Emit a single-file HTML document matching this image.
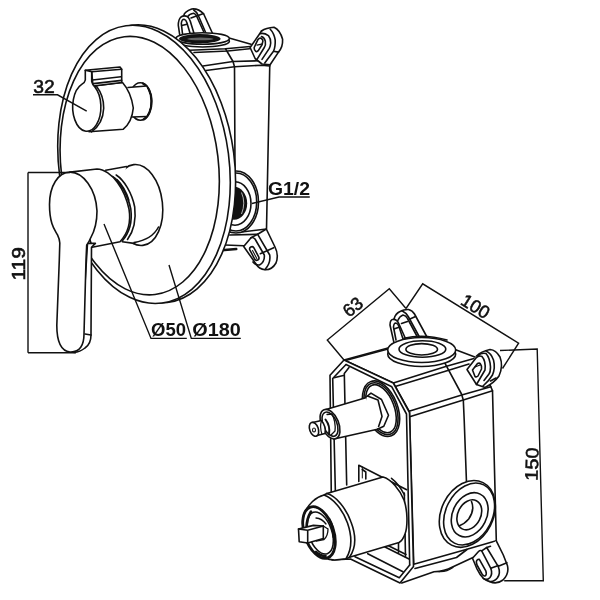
<!DOCTYPE html>
<html><head><meta charset="utf-8">
<style>
html,body{margin:0;padding:0;background:#fff;}
svg{display:block;filter:grayscale(1)}
.s{fill:none;stroke:#111;stroke-width:1.6;stroke-linecap:round;stroke-linejoin:round}
.w{fill:#fff;stroke:#111;stroke-width:1.6;stroke-linecap:round;stroke-linejoin:round}
.f{fill:#fff;stroke:none}
.t{fill:none;stroke:#111;stroke-width:1.4;stroke-linecap:butt}
.k{fill:#111;stroke:#111;stroke-width:1}
text{font-family:"Liberation Sans",sans-serif;fill:#111}
.b{font-weight:bold;font-size:18px}
.r{font-size:18px;stroke:#111;stroke-width:0.55}
</style></head><body>
<svg width="600" height="600" viewBox="0 0 600 600">
<rect width="600" height="600" fill="#fff"/>
<!-- ================= DRAWING 1 ================= -->
<g id="d1">
<!-- box behind plate -->
<g id="d1box">
 <!-- left ear -->
 <path class="f" d="M180.5,40 L178.3,25.3 Q178.5,18 183.7,15.7 Q185,11 191.7,9 Q198,8.5 203.7,14 L215.5,40 Z"/>
 <path class="s" d="M180.5,40 L178.3,25.3 Q178.3,19.5 181,17 Q184,15 187.7,16.7 Q189.5,18.5 190.3,21.3 L196,40"/>
 <path class="s" d="M183,38 L181.3,23.5 Q181.8,19.3 184,19.3 Q186,19.8 186.8,22.5 L191.5,38"/>
 <path class="s" d="M181.7,25.5 L187,24.2"/>
 <path class="s" d="M183.7,15.7 Q184.5,11.5 191.7,9 Q198.5,8.3 203.7,14 L215.5,40"/>
 <path class="s" d="M187.7,16.7 Q189.5,13.8 193.7,13.3 Q196,14 197,17 L206.5,38"/>
 <path class="s" d="M193.7,10 Q197,12 198.5,16 L208,38"/>
 <path class="s" d="M191,18 L196.3,16 M197.5,15.8 L203.5,13.5"/>
 <!-- top faces -->
 <path class="s" d="M230,38.25 L251,44.25"/>
 <path class="s" d="M189.5,50.25 L225.5,48.75 L250.25,46.5"/>
 <path class="s" d="M194,52.5 L227.75,51 L249.5,48.75"/>
 <path class="s" d="M203,66 L233,61.5 L260,60.75"/>
 <path class="s" d="M206,70.5 L234.5,66.75 L261.5,65.25 L269.75,66"/>
 <path class="s" d="M225.5,48.75 L233,61.5 L234.5,66.75 L235,172"/>
 <path class="s" d="M269.75,66 L266.5,229 L243.7,231.7 L229,232.3"/>
 <!-- top port -->
 <ellipse class="w" cx="202.6" cy="41.2" rx="26.8" ry="5.8"/>
 <ellipse class="w" cx="202.6" cy="38.5" rx="26.8" ry="5.8"/>
 <ellipse cx="199.8" cy="38.7" rx="20.8" ry="4.7" fill="#111"/>
 <ellipse cx="200.3" cy="38.9" rx="13" ry="1.4" fill="#666"/>
 <!-- right ear -->
 <path class="f" d="M250.1,47.5 L261.5,31 Q267,27.5 274,27.3 Q280,29 282.6,39 Q283,47 278.5,52 L270.25,64.5 L262,64 L255.1,58.5 Z"/>
 <path class="s" d="M261.5,31 Q266,27.8 274,27.3 Q280,30 282.6,39.25 Q283,47 278.5,52.1 L270.25,64.5"/>
 <path class="s" d="M270.25,29.2 Q274,33 275.2,40 Q275.5,47 273.5,51.2 L264.75,63 M273.5,51.2 L278.5,52.1"/>
 <path class="s" d="M259.7,33.75 Q264,32.5 268.4,35.6 Q271,39 270.7,43 Q270.5,46 269.3,48.4 L262,59.4"/>
 <path class="s" d="M261.5,36.5 Q264,37 265.3,41 Q266,45 264.3,47.5 L257,59.4"/>
 <path class="s" d="M255.1,58.5 L250.1,47.5 L259.7,33.75 L261.5,31 M255.1,58.5 L262,64 L270.25,64.9"/>
 <path class="s" d="M254.2,47.5 L257.9,39.7 Q259.5,37.5 261.1,38.3 Q263,39.5 262.9,41.1 L262,44.75 L258.3,50.7 Q256.5,52.3 255.6,51.2 Q254,50 254.2,47.5 Z"/>
 <path class="s" d="M257,45.2 L262.5,43.8" style="stroke-width:1.2"/>
 <!-- side port G1/2 -->
 <ellipse class="w" cx="236" cy="202" rx="22.5" ry="31"/>
 <ellipse class="s" cx="236" cy="202" rx="20.7" ry="29"/>
 <ellipse class="s" cx="235" cy="203.5" rx="16" ry="21.7"/>
 <ellipse cx="234" cy="203.3" rx="13.2" ry="16.5" fill="#111"/>
 <path d="M241.5,192.5 Q246,203 241.5,214" fill="none" stroke="#ddd" stroke-width="0.8"/>
 <!-- bottom ear -->
 <path class="s" d="M229.7,235 L257.7,234.3"/>
 <path class="s" d="M225,245 L243.7,245.7"/>
 <path class="s" d="M221.7,250.3 L236.3,249" style="stroke-width:2.4"/>
 <path class="w" d="M266.3,229 L275,247 Q279,255 276,263 Q272,270 265,269.7 Q259,269 256,264 L243.7,246.5 L251,237.7 L257.7,234.3 Z"/>
 <path class="s" d="M251,237.7 Q253,237 255,239 L264.3,255 Q265,262 259.5,265 Q255.5,265.5 253,262"/>
 <path class="s" d="M257.7,234.3 L269.7,255 Q271,263 265,269.5"/>
 <path class="s" d="M249.8,249.9 A2.3,2.3 0 0,1 253.8,247.7 L258.8,257.1 A2.3,2.3 0 0,1 254.8,259.3 Z"/>
 <path class="s" d="M252.5,250.5 L256.8,258.5" style="stroke-width:1.1"/>
 <path class="s" d="M260.3,253.7 L273.7,247.7"/>
</g>
<!-- plate -->
<g id="plate">
 <ellipse class="w" cx="149.3" cy="163.9" rx="85.1" ry="139.8" transform="rotate(-7.4 149.3 163.9)"/>
 <ellipse class="w" cx="144" cy="164.4" rx="85.1" ry="139.8" transform="rotate(-7.4 144 164.4)"/>
 <ellipse class="s" cx="139.7" cy="165.6" rx="78.7" ry="129.8" transform="rotate(-6.8 139.7 165.6)"/>
</g>
<!-- handle base cylinder -->
<g id="base">
 <ellipse class="w" cx="138.3" cy="205" rx="24.2" ry="40.6" transform="rotate(-6.5 138.3 205)"/>
 <path class="s" d="M158.5,227 Q152,239.5 134,242.6"/>
 <path class="f" d="M105,170.3 L126.5,166.3 Q114,204 134,244 L120,241.7 Z"/>
 <path class="s" d="M105.7,170.2 L126.5,166.5"/>
 <path class="s" d="M122.2,241.7 L134,243.4"/>
 <!-- ring -->
 <path class="s" d="M116.2,175 C124,180 132,193 134.7,207 C136.5,222 133,232 127.5,239.5"/>
 <path class="s" d="M112.5,176.5 C120,181 128,195 130.8,209 C132.5,222 129,233 122.2,241"/>
 <path class="s" d="M117,180 C122,185 126,192 128.5,200" style="stroke-width:2.2"/>
 <!-- handle body -->
 <path class="w" d="M70,172.1 L97,169 C104,169 112,175 117.5,182.5 C123,190 127,200 129,209 C131,221 128,233 120,241.7 L92.2,247.3 Z"/>
</g>
<!-- lever -->
<g id="lever">
 <path class="w" d="M87.5,243.4 L95.4,243.4 L91.5,247.3 L91,335 Q91,344 85,348 Q80,352 74,352.4 L84,300 Z"/>
 <path class="s" d="M85,334 L91,335"/>
 <path class="w" d="M49.5,204.6 C49.5,186 58,172.3 70,172.1 C83,172 96,189 97,211 C97,222 94,232 90.7,237.8 C89.5,241 88,243.5 86.7,245 L86,260 L84,334 C84,345 80,352.5 70,352 C60,351 56.8,340 56.8,325.3 L59.3,260 L59.8,243 C59.8,240 59,238 57.4,234.7 C56,232 53.5,229 51.9,223.6 C50.5,219 49.5,213 49.5,204.6 Z"/>
</g>
<!-- knob -->
<g id="knob">
 <ellipse class="w" cx="140.3" cy="101.5" rx="11.2" ry="18.7"/>
 <path class="s" d="M143,83.5 A11.2,18.7 0 0,1 144,119.3" style="stroke-width:2.3"/>
 <path class="f" d="M128,87.5 L146,86 L149.3,95 L149.8,107 L146,116.4 L131.5,117 Z"/>
 <path class="s" d="M128,87.5 L146.5,86 M131.5,117 L146.8,116.5"/>
 <path class="w" d="M95.8,85.8 L122.5,82.5 Q131,92 133.3,108 Q132,122 123.3,129.2 L89,131.8 Z"/>
 <path class="w" d="M85.3,70.3 L120,67 L121.7,69.2 L121.7,82.5 L93,86 L91.7,71.7 Z"/>
 <path class="s" d="M91.7,71.7 L121.7,69.2"/>
 <path class="s" d="M92.5,80 L121,76.7"/>
 <path class="s" d="M93.5,83.6 L121.7,80.4"/>
 <path class="s" d="M96.5,86.2 Q104,96 103.7,108.3 Q103,124 91.5,131.8"/>
 <path class="w" d="M85.3,70.3 L91.7,71.7 L91.7,81.7 Q92.3,84.5 95,87.3 A14.1,24.2 0 1,1 81.7,84.4 Q85,82.5 85.3,80 Z"/>
</g>
<!-- dims -->
<g id="d1dim">
 <path class="t" d="M33,94.8 L57.5,94.8 L86.7,111.2"/>
 <text class="r" x="33.3" y="92.9" textLength="21.5" lengthAdjust="spacingAndGlyphs">32</text>
 <path class="t" d="M28,172.5 L70,172.5 M28,172.5 L28,352.7 M28,352.7 L76,352.7"/>
 <text class="r" transform="translate(24.7,280.6) rotate(-90)" textLength="33.5" lengthAdjust="spacingAndGlyphs" style="stroke-width:0.6">119</text>
 <path class="t" d="M309.8,197 L279,197 L252,203.5"/>
 <text class="b" x="268" y="194.7" textLength="42" lengthAdjust="spacingAndGlyphs">G1/2</text>
 <path class="t" d="M186.8,338.4 L151,338.4 L104,224"/>
 <path class="t" d="M240.8,338.4 L191.3,338.4 L169,265"/>
 <text class="b" x="151" y="335.7" textLength="35" lengthAdjust="spacingAndGlyphs">Ø50</text>
 <text class="b" x="192.3" y="335.7" textLength="48.5" lengthAdjust="spacingAndGlyphs">Ø180</text>
</g>
</g>
<!-- ================= DRAWING 2 ================= -->
<g id="d2">
<!-- top ear (back-left) -->
<g id="d2ear1">
 <path class="f" d="M394.5,345 L390,325 Q390,320 394,319 Q395.5,313.5 400,311.5 Q404,309.3 408.5,309.5 Q412.5,310.5 414.5,314 L427.5,338 L410,348 Z"/>
 <path class="s" d="M394,319 Q395.5,313.5 400,311.5 Q404,309.3 408.5,309.5 Q412.5,310.5 414.5,314 L427.5,338"/>
 <path class="s" d="M394.5,345 L390,325 Q390,319.5 393.5,319.3 Q397,319.5 398.5,323 L407,342"/>
 <path class="s" d="M396,340 L393.5,327 Q393.8,323 395.8,323 Q397.8,323.5 398.8,326 L404,342"/>
 <path class="s" d="M394,329 L399.5,327"/>
 <path class="s" d="M397.8,320.5 Q399.5,316.3 403,315 Q406,315.5 407.5,318.5 L419,340"/>
 <path class="s" d="M402,310.7 Q406,312.5 408.5,317 L420.5,339"/>
 <path class="s" d="M401.5,323.5 L407.5,321.5 M410,319 L415.5,316.5"/>
</g>
<!-- box body -->
<g id="d2box">
 <!-- top face + side -->
 <path class="w" d="M344,360 L388,348 L455,349.5 L475.5,357.2 L490.8,386.7 L492.5,390.8 L496.3,540.8 L467,549.25 L413.75,564.25 L409.5,412 L393.3,383 Z"/>
 <path class="s" d="M344.5,360.8 L388,349" style="stroke-width:1.4"/>
 <path class="s" d="M393.3,382.9 L446.5,366.2 L474,358.5"/>
 <path class="s" d="M396,386.3 L449.5,370 L469,364"/>
 <path class="s" d="M409,411.3 L461.7,395 L490.8,386.7"/>
 <path class="s" d="M410.5,416.5 L463.3,400 L492.5,390.8"/>
 <path class="s" d="M443.3,361.7 L445,363.3 L461.5,394 L463.3,400 L464.2,420 L466.5,482.7"/>
 <!-- bottom edges -->
 <path class="s" d="M415,568.5 L456.5,557.5 L467,549.5"/>
 <path class="s" d="M401.75,583 L434,571.75 Q445,571.3 452,567.25 L473,557.5"/>
 <path class="s" d="M438,571.5 Q446,572.5 453,567.5" style="stroke-width:1.2"/>
</g>
<!-- top port -->
<g id="d2port1">
 <path class="s" d="M404,338.2 Q424,333.5 447,340"/>
 <ellipse class="w" cx="421.7" cy="354" rx="34" ry="12.5"/>
 <ellipse class="w" cx="421.7" cy="350" rx="34" ry="12.5"/>
 <ellipse class="s" cx="422.4" cy="349" rx="23.4" ry="8.3"/>
 <ellipse class="s" cx="421.7" cy="349.3" rx="15.8" ry="5.7"/>
</g>
<!-- right ear -->
<g id="d2ear2">
 <path class="f" d="M467,369.5 L476.5,356 Q481,351.5 490,349.5 Q496,350 500,357 Q503.5,366 499,376 Q494,383 485,387.5 L476.5,384.5 Z"/>
 <path class="s" d="M476.5,356 Q481,351.5 490,349.5 Q496,350 500,357 Q503.5,366 499,376 Q494,383 485,387.5 L476.5,384.5"/>
 <path class="s" d="M486,351 Q491,353 493.5,360 Q495.5,368 492.5,375 Q489,381 483,386"/>
 <path class="s" d="M478,356 Q481,352.5 486,353.5 Q490,358 490.5,367 Q490.5,372 489,374 L484,380.5"/>
 <path class="s" d="M467,369.5 L476,358 Q479,355 482,356.5 Q486,361 485,370 L476.5,384.5 Z"/>
 <path class="s" d="M472.5,370 L477.5,363.5 Q479.5,362.5 480.5,364 Q482,366 481.5,369 L478,376 Q476.5,377.5 475,376.5 Z"/>
 <path class="s" d="M475,367 L480,365" style="stroke-width:1.2"/>
 <path class="s" d="M490.5,381 L496,378"/>
</g>
<!-- side port -->
<g id="d2port2">
 <ellipse class="w" cx="467.3" cy="513.9" rx="25.9" ry="35" transform="rotate(26.8 467.3 513.9)"/>
 <ellipse class="s" cx="469.1" cy="514" rx="23.3" ry="32.6" transform="rotate(26.8 469.1 514)"/>
 <ellipse class="s" cx="469.7" cy="514.8" rx="17" ry="23.2" transform="rotate(26.8 469.7 514.8)"/>
 <ellipse class="s" cx="469.3" cy="514.8" rx="11.4" ry="15.8" transform="rotate(26.8 469.3 514.8)"/>
 <path class="s" d="M471.5,501.5 Q475,510 468.7,519 Q464.5,524 459.3,525.7"/>
</g>
<!-- bottom ear -->
<g id="d2ear3">
 <path class="f" d="M472.5,558.3 L478.3,551.7 L486.7,547.5 L496.3,540.8 L503.3,555 L507.5,565.8 Q509,574 502.5,580 Q496,584.5 490,581.7 L483.3,578.3 L476.7,568.3 Z"/>
 <path class="s" d="M496.3,540.8 L503.3,555 L507.5,565.8 Q509.3,574 503,580 Q496.5,584.8 490,581.7 Q486,580.5 483.3,578.3"/>
 <path class="s" d="M472.5,558.3 L478.3,551.7 Q480,550 481.7,550.8 L490.8,568.3 Q492.8,574 490,577.5 Q487,580.8 483.3,578.3 Q480,575 476.7,568.3 Z"/>
 <path class="s" d="M476.3,562 Q476.7,559 479.2,559.2 L485.8,570.8 Q487,574.5 485.3,575.8 Q483.5,576.5 482,574 L477,565 Z"/>
 <path class="s" d="M481.7,550.8 L486.7,547.5 L498.3,566.7 Q500.8,573 497.5,577.8 Q494,582.5 488.5,581.3"/>
 <path class="s" d="M486.7,547.5 L490.5,546.3"/>
 <path class="s" d="M490.8,568.3 L498.3,565.5 M499,566 L506.9,562.7"/>
</g>
<!-- front frame -->
<g id="d2frame">
 <path class="w" d="M344,360 L393.3,383 L409.5,412.5 L413.5,566.5 L400,583 L350.5,559 L332,560 L330,375.3 Z"/>
 <path class="s" d="M346,364.5 L332.7,378.5 L335.5,497"/>
 <path class="s" d="M346,364.5 L391.8,386.8 L406.5,414 L409.7,565"/>
 <path class="s" d="M349,367.5 L344.3,373.5 L346.7,485 M334,377.8 L344.3,375.2"/>
 <!-- window -->
 <path class="s" d="M358.8,481.5 L358.8,465.2 L406.7,489.7"/>
 <path class="s" d="M362.3,469.5 L365.8,472 L365.8,479"/>
 <path class="s" d="M362.3,467 L362.3,478" style="stroke-width:1"/>
 <path class="s" d="M391.5,478.3 Q399,484 404.5,495"/>
 <path class="s" d="M404.3,493 L405.5,557.3"/>
 <path class="s" d="M398.5,542.5 L398.5,552.3 M385,547 L409,559 M388,545.5 L406,554.5"/>
 <!-- bottom -->
 <path class="s" d="M355,556.7 L399.3,577.7 L409.7,565"/>
 <path class="s" d="M367.7,553.7 L403,571.7"/>
</g>
<!-- upper stem -->
<g id="d2stem">
 <ellipse class="w" cx="381" cy="408.7" rx="16.6" ry="29" transform="rotate(-21 381 408.7)"/>
 <ellipse class="s" cx="381" cy="408.7" rx="15" ry="27.2" transform="rotate(-21 381 408.7)"/>
 <ellipse class="s" cx="381" cy="408.7" rx="13.2" ry="25.2" transform="rotate(-21 381 408.7)"/>
 <path class="w" d="M365.5,397.5 L371,393.1 L381.5,399.5 L388.5,415.3 L383.8,426.3 L377.4,429.2 L366,420 Z"/>
 <path class="s" d="M367.5,396 L378,400 L382,416.4 L378.6,426.5"/>
 <path class="f" d="M326,409.5 L365.7,397.7 L372,412 L377.4,429.2 L334,439 Z"/>
 <path class="s" d="M326,409.5 L365.7,397.7 M334,439 L377.4,429.2"/>
 <ellipse class="w" cx="330" cy="424.2" rx="8.7" ry="15.6" transform="rotate(-22.5 330 424.2)"/>
 <ellipse class="s" cx="330" cy="424.2" rx="6.9" ry="12.8" transform="rotate(-22.5 330 424.2)"/>
 <path class="s" d="M325.5,419.5 Q330.5,426 329,434.5" style="stroke-width:2"/>
 <path class="s" d="M327,414.5 L332,414 Q336,422 335,431 L331,435" style="stroke-width:1.3"/>
 <path class="w" d="M312.5,422.5 L321.5,420.5 Q326,427 325,433.5 L315,436 Z" style="stroke:none"/>
 <path class="s" d="M312.5,422.5 L321.5,420.5 Q326.5,427 325,433.5 L315,436"/>
 <path class="s" d="M321.5,420.5 Q319.5,427 322,434.2" style="stroke-width:1.2"/>
 <ellipse class="w" cx="314" cy="429.3" rx="4.3" ry="7.2" transform="rotate(-20 314 429.3)"/>
 <ellipse class="s" cx="314" cy="430" rx="1.5" ry="2" style="stroke-width:1.1"/>
</g>
<!-- cartridge -->
<g id="d2cart">
 <path class="f" d="M326.9,493.5 L383,477 C391,479 400,490 404,500 C407.5,510 408,526 405,534 C403.5,538.5 401.5,541 399,542.5 L349.5,557.2 L334.7,560 C318,560 303,545 302.5,526 C302,508 314,495.5 324,495 Z"/>
 <path class="s" d="M326.9,493.5 L383,477 C391,479 400,490 404,500 C407.5,510 408,526 405,534 C403.5,538.5 401.5,541 399,542.5 L349.5,557.2"/>
 <path class="s" d="M326.9,493.5 C336,496 346,508 351,522 C356,535 356,548 349.5,557.2"/>
 <path class="s" d="M324,495 C333,498 343,510 347.5,523 C352,536 352,549 346,558.7"/>
 <path class="s" d="M326.9,493.5 L324,495 C316,497 308,504 304,514"/>
 <path class="s" d="M349.5,557.2 L346,558.7 L334.7,560 C327,560 320,556 314.8,550"/>
 <ellipse class="w" cx="319" cy="532.5" rx="14.6" ry="26.8" transform="rotate(-18.8 319 532.5)" style="stroke-width:2.8"/>
 <ellipse class="s" cx="320.3" cy="533" rx="11.6" ry="21.8" transform="rotate(-18.8 320.3 533)"/>
 <path class="s" d="M311,511.5 Q306.5,519 306.5,528 M316,552 Q320,556 325.5,556 M329,519 Q333.5,527 333.7,537" style="stroke-width:2.6"/>
 <path class="s" d="M316,518 Q322,518.5 326,524 M323.3,526 L328,529 M316.2,541 L324,539.5 Q328,536 328,529" style="stroke-width:1.3"/>
 <path class="w" d="M298.5,529 L313.4,525.4 L323.3,526 L323.3,538.5 L307.7,543 L299.2,541.7 Z"/>
 <path class="s" d="M298.5,529 L307.7,530.3 L307.7,543 M307.7,530.3 L323.3,526"/>
</g>
<!-- dims -->
<g id="d2dim">
 <path class="t" d="M344,360 L327.3,340 L389.3,288.7 L406,308.5"/>
 <path class="t" d="M406,308.5 L422.7,283.8 L518.6,343.2 L502.5,368.5"/>
 <path class="t" d="M500,350.5 L537.2,349 L543.3,580.8 L504.2,580.8"/>
 <text class="r" transform="translate(358.7,314) rotate(-39.6)" text-anchor="middle" y="-3">63</text>
 <text class="r" transform="translate(470.9,313.7) rotate(31.8)" text-anchor="middle" y="-2.4">100</text>
 <text class="r" transform="translate(537.6,481) rotate(-88.5)" textLength="33.5" lengthAdjust="spacingAndGlyphs">150</text>
</g>
</g>
</svg>
</body></html>
